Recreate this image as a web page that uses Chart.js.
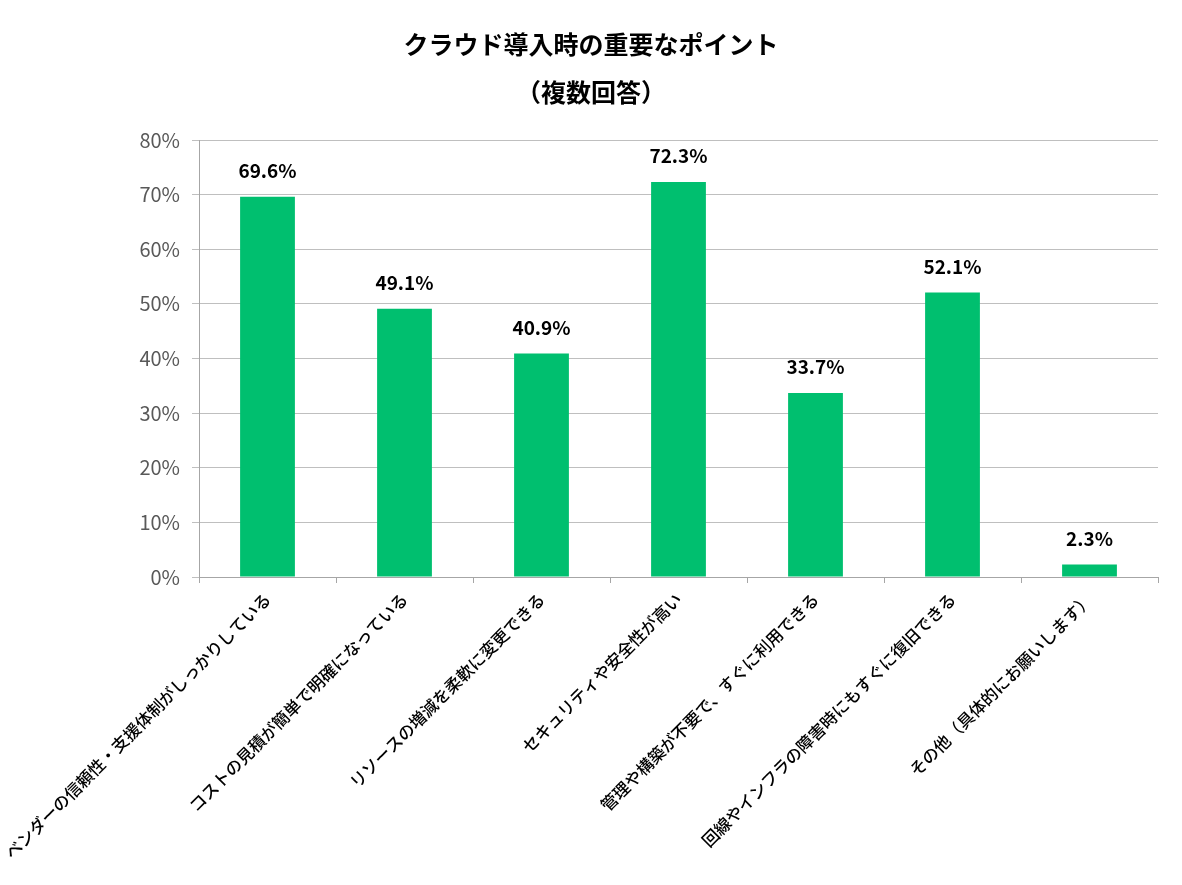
<!DOCTYPE html>
<html>
<head>
<meta charset="utf-8">
<script src="https://cdn.jsdelivr.net/npm/chart.js@4.4.1/dist/chart.umd.min.js"></script>
<style>
html,body{margin:0;padding:0;background:#fff;}
#wrap{width:1182px;height:885px;}
</style>
</head>
<body>
<div id="wrap"><canvas id="c" width="1182" height="885"></canvas></div>
<script>
const titleLines = ["クラウド導入時の重要なポイント", "（複数回答）"];
const categories = [
  "ベンダーの信頼性・支援体制がしっかりしている",
  "コストの見積が簡単で明確になっている",
  "リソースの増減を柔軟に変更できる",
  "セキュリティや安全性が高い",
  "管理や構築が不要で、すぐに利用できる",
  "回線やインフラの障害時にもすぐに復旧できる",
  "その他（具体的にお願いします）"
];
const values = [69.6, 49.1, 40.9, 72.3, 33.7, 52.1, 2.3];
const yTicks = [0, 10, 20, 30, 40, 50, 60, 70, 80];

const JP = "'Noto Sans CJK JP', 'Noto Sans', sans-serif";

const valueLabels = {
  id: 'valueLabels',
  afterDatasetsDraw(chart) {
    const ctx = chart.ctx;
    const meta = chart.getDatasetMeta(0);
    ctx.save();
    ctx.font = "bold 19px " + JP;
    ctx.fillStyle = "#000";
    ctx.textAlign = "center";
    ctx.textBaseline = "middle";
    meta.data.forEach((bar, i) => {
      ctx.fillText(values[i].toFixed(1) + "%", bar.x, bar.y - 26);
    });
    ctx.restore();
  }
};

new Chart(document.getElementById('c'), {
  type: 'bar',
  data: {
    labels: categories,
    datasets: [{
      data: values,
      backgroundColor: '#00BF6F',
      borderWidth: 0,
      barPercentage: 0.4,
      categoryPercentage: 1.0
    }]
  },
  options: {
    responsive: false,
    animation: false,
    devicePixelRatio: 1,
    layout: { padding: { left: 24, right: 24, top: 0, bottom: 0 } },
    plugins: {
      legend: { display: false },
      tooltip: { enabled: false },
      title: {
        display: true,
        text: titleLines,
        color: '#000',
        font: { family: JP, size: 25, weight: 'bold', lineHeight: 1.92 },
        padding: { top: 20, bottom: 24 }
      }
    },
    scales: {
      x: {
        offset: true,
        afterFit(scale) {
          scale.height = 308;
          scale.paddingLeft = 0;
          scale.paddingRight = 0;
        },
        grid: {
          offset: true,
          drawOnChartArea: false,
          drawTicks: true,
          tickLength: 6,
          color: '#A6A6A6'
        },
        border: { color: '#A6A6A6' },
        ticks: {
          autoSkip: false,
          maxRotation: 45,
          minRotation: 45,
          color: '#000',
          font: { family: JP, size: 16.7, weight: 500 },
          padding: 6
        }
      },
      y: {
        min: 0,
        max: 80,
        afterFit(scale) { scale.width = 175; },
        afterBuildTicks(scale) {
          scale.ticks = yTicks.map(v => ({ value: v }));
        },
        grid: {
          color: '#BFBFBF',
          drawTicks: true,
          tickLength: 7
        },
        border: { color: '#A6A6A6' },
        ticks: {
          color: '#595959',
          font: { family: JP, size: 20, weight: 400 },
          padding: 12,
          callback: v => v + '%'
        }
      }
    }
  },
  plugins: [valueLabels]
});
</script>
</body>
</html>
